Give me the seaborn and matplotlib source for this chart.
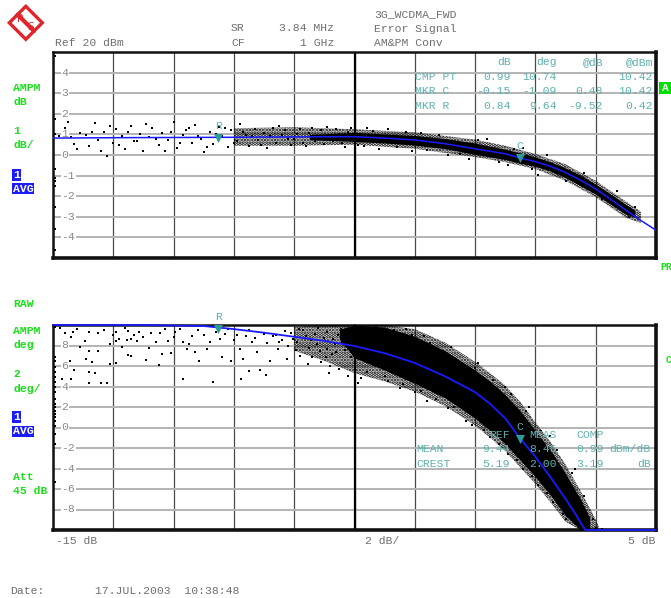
import numpy as np
import pandas as pd
import matplotlib
matplotlib.use("Agg")
import matplotlib.pyplot as plt
import seaborn as sns
from matplotlib.patches import Polygon, Rectangle
from matplotlib.lines import Line2D

# ---------------- data ----------------
x_ticks = [-15, -13, -11, -9, -7, -5, -3, -1, 1, 3, 5]
top_ytick_vals = [4, 3, 2, 1, 0, -1, -2, -3, -4]
top_ytick_labels = ["4", "3", "2", "1", "0", "-1", "-2", "-3", "-4"]
bot_ytick_vals = [8, 6, 4, 2, 0, -2, -4, -6, -8]
bot_ytick_labels = ["8", "6", "4", "2", "0", "-2", "-4", "-6", "-8"]

# AM/AM fit curve (dB)
top_fit_x = [-15, -13, -11, -9, -7, -5, -4, -3, -2, -1, 0, 0.5, 1, 1.5, 2, 2.5, 3, 3.5, 4, 4.5, 5]
top_fit_y = [0.82, 0.84, 0.85, 0.86, 0.88, 0.89, 0.82, 0.73, 0.55, 0.30, 0.06, -0.15, -0.32, -0.55,
             -0.85, -1.22, -1.65, -2.15, -2.68, -3.18, -3.65]
# dense core of the AM/AM cloud (dB)
top_band_x = [-6.5, -5, -4, -3, -2, -1, 0, 0.5, 1, 1.5, 2, 2.5, 3, 3.5, 4, 4.3]
top_band_hi = [1.0, 1.1, 1.02, 0.95, 0.8, 0.58, 0.28, 0.1, -0.1, -0.33, -0.63, -0.98, -1.42, -1.9, -2.4, -2.68]
top_band_lo = [0.74, 0.66, 0.58, 0.48, 0.31, 0.03, -0.22, -0.4, -0.55, -0.78, -1.1, -1.5, -1.9, -2.4, -2.88, -3.02]
# looser halo of the AM/AM cloud (dB)
top_halo_x = [-9, -7, -5, -3, -1, 0, 1, 2, 3, 4, 4.5]
top_halo_hi = [1.3, 1.35, 1.25, 1.1, 0.75, 0.45, 0.05, -0.45, -1.25, -2.25, -2.75]
top_halo_lo = [0.45, 0.45, 0.5, 0.3, -0.1, -0.35, -0.68, -1.25, -2.05, -3.05, -3.3]
# sparse samples (dB)
top_pts_x = [-14.6, -14.4, -14.3, -14.1, -13.9, -13.8, -13.6, -13.5, -13.3, -13.2, -13.0, -12.9, -12.7,
             -12.6, -12.4, -12.3, -12.1, -12.0, -11.8, -11.7, -11.5, -11.4, -11.2, -11.0, -10.9, -10.7,
             -10.6, -10.4, -10.3, -10.1, -10.0, -9.8, -9.7, -9.5, -9.4, -9.2, -9.1, -8.9, -8.8, -8.6,
             -8.5, -8.3, -8.2, -8.0, -7.9, -7.7, -7.6, -7.4, -7.3, -7.1, -7.0, -6.8, -6.6, -6.5, -6.3,
             -6.1, -6.0, -5.8, -5.6, -5.4, -5.2, -4.7, -4.4, -3.6, -3.3, -2.6, -2.2, -1.5, -0.9, -0.2,
             0.3, 0.9, 1.4, 2.0, 2.6, 3.2, 3.7, 4.1, 4.3, 4.4,
             -14.8, -14.5, -14.2, -13.7, -13.4, -13.1, -12.8, -12.5, -12.2, -11.9, -11.6, -11.3, -11.1,
             -10.8, -10.5, -10.2, -9.9, -9.6, -9.3, -9.0, -8.7, -8.4, -8.1, -7.8, -7.5, -7.2, -6.9,
             -6.7, -6.4, -6.2, -5.9, -5.7, -5.5, -5.3, -5.1, -4.9, -4.6, -4.2, -3.9, -3.1, -2.8, -1.9,
             -1.2, -0.6, 0.1, 0.6, 1.1,
             -14.95, -14.95, -14.95, -14.95, -14.95, -14.95, -14.95, -14.95, -14.95, -14.95]
top_pts_y = [1.30, 0.85, 0.55, 1.05, 0.95, 0.45, 1.55, 0.75, 1.10, -0.05, 0.60, 1.25, 0.90,
             0.30, 1.40, 0.70, 1.00, 0.20, 0.85, 1.30, 0.50, 1.05, 0.75, 1.60, 0.35, 0.95,
             1.20, 0.60, 1.45, 0.80, 0.15, 1.10, 0.55, 1.35, 0.90, 0.40, 1.20, 0.70, 1.50, 0.95,
             0.45, 1.25, 0.75, 1.05, 0.35, 1.30, 0.60, 0.95, 1.20, 0.50, 0.80, 1.25, 0.45, 1.05, 0.70,
             1.20, 0.55, 0.95, 1.25, 0.60, 1.10, 0.45, 1.15, 0.40, 1.10, 0.25, 0.95, 0.05, 0.75, -0.35,
             0.30, -0.70, 0.00, -1.25, -0.85, -2.15, -1.75, -3.0, -2.50, -3.05,
             0.9, 1.6, 0.3, 1.1, 0.2, 1.4, 0.5, 1.1, 0.7, 1.5, 0.8, 0.2, 1.1,
             0.6, 1.3, 0.9, 0.4, 1.0, 1.3, 0.6, 1.1, 0.9, 0.5, 0.9, 1.4, 0.8, 1.0,
             0.6, 1.3, 0.85, 1.35, 0.7, 1.0, 0.4, 1.3, 0.5, 1.3, 0.3, 1.25, 0.2, 1.05, 0.0,
             -0.2, 0.8, -0.5, 0.35, -0.95,
             4.8, 1.75, 1.0, -0.7, -1.1, -1.25, -1.5, -2.5, -3.6, -4.6]

# AM/PM fit curve (deg)
bot_fit_x = [-15, -12, -10, -9, -8, -7, -6, -5, -4, -3, -2, -1, -0.5, 0, 0.5, 1, 1.5, 2, 2.3, 2.65, 3, 4, 5]
bot_fit_y = [10, 10, 9.9, 9.6, 9.25, 8.85, 8.45, 7.95, 7.25, 6.3, 5.0, 3.45, 2.3, 0.9, -1.1, -2.85,
             -4.85, -6.95, -8.3, -10, -10, -10, -10]
bot_band_x = [-5.5, -5, -4, -3, -2, -1, -0.5, 0, 0.5, 1, 1.5, 2, 2.5, 2.8]
bot_band_hi = [9.6, 10, 9.8, 8.9, 7.5, 5.6, 4.5, 3.2, 1.6, -0.3, -2.2, -4.5, -7.0, -8.8]
bot_band_lo = [8.6, 6.8, 5.6, 4.3, 2.9, 0.9, -0.3, -1.6, -3.2, -4.8, -6.6, -8.6, -10, -10]
bot_halo_x = [-7, -6, -5, -4, -3, -2, -1, -0.5, 0, 0.5, 1, 1.5, 2, 2.5, 2.9, 3.1]
bot_halo_hi = [9.8, 10, 10, 10, 9.6, 8.3, 6.4, 5.3, 4.1, 2.5, 0.5, -1.4, -3.6, -6.2, -8.4, -9.6]
bot_halo_lo = [7.5, 6.5, 5.3, 4.5, 3.5, 2.1, 0.2, -1.0, -2.3, -3.9, -5.5, -7.3, -9.2, -10, -10, -10]
bot_pts_x = [-14.77, -14.33, -14.4, -13.8, -13.5, -14.1, -13.8, -13.5, -13.9, -13.7, -14.45, -14.3, -13.8,
             -13.6, -14.7, -14.4, -13.8, -13.4, -13.2, -13.1, -13.1, -12.9, -12.8, -12.55, -12.4, -12.9,
             -12.5, -12.15, -12.2, -12.7, -12.5, -12.4, -12.9, -11.9, -11.75, -11.6, -11.45, -11.5, -11.4,
             -11.2, -11.1, -10.95, -10.7, -10.7, -10.55, -10.5, -10.3, -10.15, -10.0, -9.8, -9.7, -9.6,
             -9.45, -9.4, -9.3, -9.1, -9.0, -8.8, -8.75, -8.7, -8.6, -8.5, -8.4, -8.15, -8.25, -7.95,
             -7.8, -7.7, -7.55, -7.3, -7.2, -7.05, -6.8, -6.6, -6.4, -6.25, -6.1, -5.9, -5.8, -5.7,
             -5.6, -5.5, -5.4, -5.2, -5.1, -5.0,
             -8.0, -7.9, -7.6, -7.4, -7.1, -6.9, -6.7, -6.5, -6.3, -6.0, -5.9, -5.75, -5.55, -5.3, -5.2,
             -6.95, -6.45, -6.15, -5.95, -5.65,
             -4.8, -4.6, -4.3, -4.0, -3.7, -3.4, -3.1, -2.8, -2.5, -2.3, -2.0, -1.7, -1.5, -1.3, -1.0,
             -0.7, -0.4, -0.2, 0.2, 0.4, 0.7, 0.9, 1.2, 1.4, 1.7, 1.9, 2.2, 2.4, 2.6, 2.9, 3.0, 3.2,
             -14.6, -14.2, -13.95, -13.3, -13.0, -12.6, -12.3, -12.0, -11.8, -11.3, -11.0, -10.8, -10.4,
             -10.2, -9.9, -9.2, -8.9, -8.5, -8.3, -7.5, -7.25, -6.85, -6.55, -6.2, -5.85, -5.45, -5.05,
             -4.9, -4.5, -3.9, -3.5, -3.0, -2.6, -1.9, -1.1, -0.5, 0.1, 0.6, 1.1, 1.6, 2.0, 0.0, -0.9,
             -1.8, -2.7, -3.3, 0.8, 1.5, 2.3,
             -14.95, -14.95, -14.95, -14.95, -14.95, -14.95, -14.95, -14.95, -14.95, -14.95, -14.95,
             -14.95, -14.95, -14.95, -14.95, -14.95, -14.95, -14.95, -14.95, -14.95]
bot_pts_y = [9.7, 9.3, 8.8, 9.3, 9.2, 7.9, 7.5, 7.5, 6.7, 6.35, 6.5, 5.6, 5.4,
             5.3, 4.7, 4.7, 4.3, 4.3, 4.3, 6.2, 8.1, 8.4, 8.6, 8.5, 8.6, 9.35,
             9.45, 9.3, 8.4, 7.9, 7.1, 6.95, 6.3, 6.6, 9.2, 8.3, 9.2, 6.1, 7.2,
             8.4, 7.3, 9.3, 4.7, 8.3, 7.65, 8.15, 7.35, 6.5, 9.0, 8.3, 4.4, 9.3,
             8.6, 6.85, 9.1, 6.5, 8.5, 7.65, 4.7, 6.7, 8.9, 5.55, 8.3, 5.6, 7.35, 5.1,
             6.5, 8.95, 7.65, 9.4, 8.0, 8.6, 7.0, 8.95, 6.85, 8.15, 6.35, 7.65, 6.0, 8.6,
             7.35, 5.7, 8.3, 5.05, 6.85, 7.8,
             9.1, 8.2, 9.0, 8.5, 9.2, 8.3, 9.5, 7.8, 9.1, 8.7, 9.3, 7.2, 9.0, 7.6, 9.5,
             7.6, 8.55, 7.45, 6.9, 8.1,
             4.8, 5.4, 9.8, 5.0, 9.5, 4.2, 9.0, 3.6, 8.2, 2.8, 7.4, 2.0, 6.4, 0.6, 5.8,
             -0.2, 4.6, -1.6, 3.3, -3.2, 1.6, -4.7, -0.3, -6.4, -2.2, -8.4, -4.4, -9.3, -6.7, -8.9, -9.8, -9.9,
             9.2, 9.6, 8.4, 9.5, 9.0, 9.7, 9.0, 8.8, 7.8, 9.6, 8.8, 9.6, 8.9,
             9.5, 7.7, 9.6, 9.0, 9.5, 8.7, 8.3, 6.7, 9.6, 6.2, 9.7, 5.3, 9.6, 8.9,
             4.3, 10.0, 4.5, 3.9, 3.5, 2.6, 1.9, 0.2, -0.9, -2.6, -4.0, -5.6, -7.3, -8.9, 4.0, 6.3,
             7.9, 8.9, 9.6, 2.0, -0.8, -4.0,
             9.8, 6.9, 6.5, 5.9, 5.4, 4.9, 4.4, 3.95, 3.45, 2.8, 2.3, 2.0, 1.6, 1.3, 1.0,
             0.65, 0.15, -0.6, -1.6, -5.3]

# markers: (x dB, AM dB, PM deg)
mkr_names = ["R", "C"]
mkr_x = [-9.52, 0.48]
mkr_am = [0.84, -0.15]
mkr_pm = [9.64, -1.09]

# ---------------- style ----------------
sns.set_style("white")
plt.rcParams['font.family'] = ['Liberation Mono', 'DejaVu Sans Mono']
plt.rcParams['hatch.linewidth'] = 1.8

W, H = 671, 598
fig = plt.figure(figsize=(W / 100, H / 100), dpi=100, facecolor='white')

GREY = '#6e6e6e'
TEAL = '#5fb0b0'
GREEN = '#19e019'
BLUEBOX = '#1c1cf5'
FS = 8.2


def P(x, y):
    return (x / W, 1 - y / H)


def ftext(x, y, s, ha='left', color=GREY, **kw):
    fig.text(x / W, 1 - y / H, s, ha=ha, va='center', color=color, fontsize=kw.pop('fontsize', FS), **kw)


ax1 = fig.add_axes([53 / W, 1 - 258 / H, 603 / W, 206 / H])
ax2 = fig.add_axes([53 / W, 1 - 530 / H, 603 / W, 205 / H])


def style_axis(ax, ylim, ystep, ylab_vals, ylab_txt):
    ax.set_xlim(-15, 5)
    ax.set_ylim(*ylim)
    ax.set_xticks(x_ticks)
    ax.set_yticks(np.arange(ylim[0], ylim[1] + 0.01, ystep))
    ax.tick_params(length=0, labelleft=False, labelbottom=False)
    ax.xaxis.grid(True, color='#4a4a4a', lw=0.9)
    ax.yaxis.grid(True, color='#b4b4b4', lw=1.4)
    ax.set_axisbelow(True)
    ax.axvline(-5, color='black', lw=1.6, zorder=1.5)
    for side, sp in ax.spines.items():
        sp.set_color('#111111')
        sp.set_linewidth(2.6 if side in ('right', 'bottom') else 1.8)
        sp.set_visible(True)
    for v, t in zip(ylab_vals, ylab_txt):
        ax.text(-14.72, v, t, ha='left', va='center', color='#8a8a8a', fontsize=FS, zorder=2,
                bbox=dict(fc='white', ec='none', pad=0.4))
    ax.set_xlabel('')
    ax.set_ylabel('')


style_axis(ax1, (-5, 5), 1, top_ytick_vals, top_ytick_labels)
style_axis(ax2, (-10, 10), 2, bot_ytick_vals, bot_ytick_labels)

# top panel data
ax1.fill_between(top_halo_x, top_halo_lo, top_halo_hi, facecolor='none', edgecolor='black',
                 hatch='.....', lw=0, zorder=3)
ax1.fill_between(top_band_x, top_band_lo, top_band_hi, color='black', lw=0, zorder=3)
sns.scatterplot(x=top_pts_x, y=top_pts_y, ax=ax1, color='black', marker='s', s=4, linewidth=0, zorder=3)
sns.lineplot(x=top_fit_x, y=top_fit_y, ax=ax1, color='#1a1aff', lw=1.1, zorder=4, estimator=None)

# bottom panel data
ax2.fill_between(bot_halo_x, bot_halo_lo, bot_halo_hi, facecolor='none', edgecolor='black',
                 hatch='.....', lw=0, zorder=3)
ax2.fill_between(bot_band_x, bot_band_lo, bot_band_hi, color='black', lw=0, zorder=3)
sns.scatterplot(x=bot_pts_x, y=bot_pts_y, ax=ax2, color='black', marker='s', s=4, linewidth=0, zorder=3)
sns.lineplot(x=bot_fit_x, y=bot_fit_y, ax=ax2, color='#1a1aff', lw=1.3, zorder=4, estimator=None)
for ln in ax2.get_lines():
    ln.set_clip_on(False)

# markers
for ax, yy in ((ax1, mkr_am), (ax2, mkr_pm)):
    sns.scatterplot(x=mkr_x, y=yy, ax=ax, marker='v', s=42, color='#2a9a9a', linewidth=0, zorder=6,
                    clip_on=False)
    for n, xx, y in zip(mkr_names, mkr_x, yy):
        ax.annotate(n, (xx, y), xytext=(0, 5), textcoords='offset points', ha='center', va='bottom',
                    color=TEAL, fontsize=FS, zorder=6, annotation_clip=False)
    ax.set_xlabel('')
    ax.set_ylabel('')
    leg = ax.get_legend()
    if leg:
        leg.remove()

# ---------------- header texts ----------------
ftext(55, 43, "Ref 20 dBm")
ftext(231, 28, "SR")
ftext(334, 28, "3.84 MHz", ha='right')
ftext(231, 43, "CF")
ftext(334, 43, "1 GHz", ha='right')
ftext(374, 14.5, "3G_WCDMA_FWD")
ftext(374, 28.5, "Error Signal")
ftext(374, 43, "AM&PM Conv")

# top table
col_r = [510.5, 556.5, 603, 653]
ftext(col_r[0], 62, "dB", ha='right', color=TEAL)
ftext(col_r[1], 62, "deg", ha='right', color=TEAL)
ftext(col_r[2], 62, "@dB", ha='right', color=TEAL)
ftext(col_r[3], 62, "@dBm", ha='right', color=TEAL)
rows = [("CMP PT", ["0.99", "10.74", "", "10.42"], 76.5),
        ("MKR C", ["-0.15", "-1.09", "0.48", "10.42"], 91),
        ("MKR R", ["0.84", "9.64", "-9.52", "0.42"], 105.5)]
for lab, vals, yy in rows:
    ftext(415, yy, lab, color=TEAL)
    for cx, v in zip(col_r, vals):
        ftext(cx, yy, v, ha='right', color=TEAL)

# bottom table
ftext(510, 435, "REF", ha='right', color=TEAL)
ftext(556.7, 435, "MEAS", ha='right', color=TEAL)
ftext(604, 435, "COMP", ha='right', color=TEAL)
ftext(416, 449.5, "MEAN", color=TEAL)
ftext(509.5, 449.5, "9.44", ha='right', color=TEAL)
ftext(556.7, 449.5, "8.45", ha='right', color=TEAL)
ftext(604, 449.5, "0.99", ha='right', color=TEAL)
ftext(651, 449.5, "dBm/dB", ha='right', color=TEAL)
ftext(416, 464, "CREST", color=TEAL)
ftext(509.5, 464, "5.19", ha='right', color=TEAL)
ftext(556.7, 464, "2.00", ha='right', color=TEAL)
ftext(604, 464, "3.19", ha='right', color=TEAL)
ftext(651, 464, "dB", ha='right', color=TEAL)

# left green labels
for s, yy in [("AMPM", 88), ("dB", 102), ("1", 131), ("dB/", 145),
              ("RAW", 304), ("AMPM", 331.5), ("deg", 345), ("2", 374), ("deg/", 388.5),
              ("Att", 477.5), ("45 dB", 491)]:
    ftext(13, yy, s, color=GREEN, fontweight='bold')
for s, yy in [("1", 175), ("AVG", 188.5), ("1", 417), ("AVG", 431.5)]:
    ftext(13, yy, s, color='white', fontweight='bold',
          bbox=dict(fc=BLUEBOX, ec='none', pad=0.6))

# right side green bits
fig.patches.append(Rectangle(P(659, 94), 12 / W, 12 / H, transform=fig.transFigure,
                             fc='#00e000', ec='none'))
ftext(662, 88, "A", color='white', fontweight='bold')
ftext(660, 267, "PR", color=GREEN, fontweight='bold', fontsize=7)
ftext(666, 360, "C", color=GREEN, fontweight='bold', fontsize=7)

# bottom axis labels and date
ftext(56, 541, "-15 dB")
ftext(365, 541, "2 dB/")
ftext(655, 541, "5 dB", ha='right')
ftext(10, 591, "Date:")
ftext(95, 591, "17.JUL.2003  10:38:48")

# R&S logo
cx, cy, r = 25.8, 22.8, 16.5
verts = [P(cx, cy - r), P(cx + r, cy), P(cx, cy + r), P(cx - r, cy)]
fig.patches.append(Polygon(verts, closed=True, transform=fig.transFigure,
                           fc='white', ec='#e0252b', lw=2.4))
fig.lines.append(Line2D([P(17.6, 14.6)[0], P(34.0, 31.0)[0]], [P(17.6, 14.6)[1], P(34.0, 31.0)[1]],
                        transform=fig.transFigure, color='#e0252b', lw=3.0))
fig.text(*P(20.5, 19.0), "R", ha='center', va='center', color='#e0252b', fontsize=7.5,
         family='DejaVu Sans', zorder=5)
fig.text(*P(31.0, 27.0), "S", ha='center', va='center', color='#e0252b', fontsize=7.5,
         family='DejaVu Sans', zorder=5)

fig.savefig("out.png", dpi=100, facecolor='white')
